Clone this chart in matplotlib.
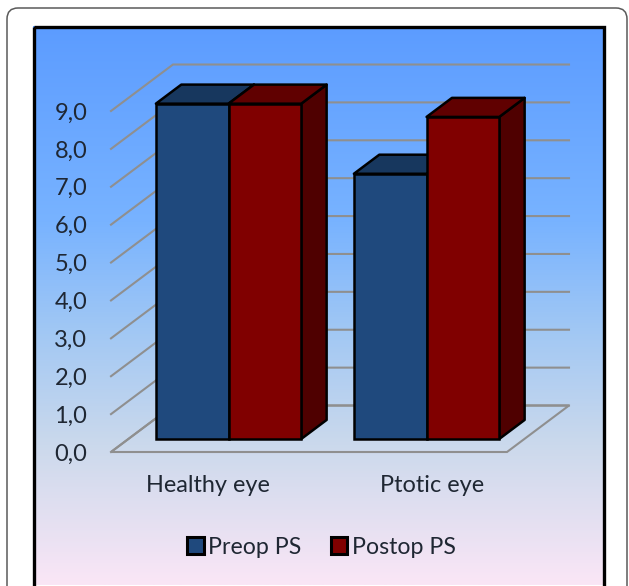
import numpy as np
import matplotlib
matplotlib.use("Agg")
import matplotlib.pyplot as plt
from matplotlib.colors import LinearSegmentedColormap
from matplotlib.patches import FancyBboxPatch, Patch, Polygon, Rectangle

categories = ["Healthy eye", "Ptotic eye"]
series_names = ["Preop PS", "Postop PS"]
preop = [8.85, 7.0]
postop = [8.85, 8.5]
y_ticks = [0, 1, 2, 3, 4, 5, 6, 7, 8, 9]
y_labels = ["0,0", "1,0", "2,0", "3,0", "4,0", "5,0", "6,0", "7,0", "8,0", "9,0"]

W, H = 629, 586
plt.rcParams["font.family"] = ["Lato", "DejaVu Sans"]
TXT = "#1f2733"
GRID = "#8f8f8f"
fig = plt.figure(figsize=(W / 100, H / 100), dpi=100, facecolor="white")

# page card and gradient panel (pixel space)
bg = fig.add_axes([0, 0, 1, 1], zorder=0)
bg.set_xlim(0, W); bg.set_ylim(H, 0); bg.axis("off")
bg.add_patch(FancyBboxPatch((7, 8), 620, 640, boxstyle="round,pad=0,rounding_size=11",
                            fc="white", ec="#5a5a5a", lw=1.1))
cmap = LinearSegmentedColormap.from_list("panel", [
    (0.0, "#5c9cff"), (0.35, "#78b3ff"), (0.55, "#a2c8f4"),
    (0.75, "#cbd9ec"), (1.0, "#fae6f6")])
bg.imshow(np.linspace(0, 1, 256)[:, None], cmap=cmap, aspect="auto",
          extent=(33, 603, 585, 26), zorder=1)
bg.set_xlim(0, W); bg.set_ylim(H, 0)
bg.add_patch(Rectangle((33.5, 26.5), 570, 570, fc="none", ec="black", lw=2.4, zorder=2))

# chart axes: front floor edge of the 3D box
ax = fig.add_axes([111 / W, (H - 452) / H, 396 / W, 341 / H], zorder=1)
ax.patch.set_alpha(0)
ax.set_xlim(-0.5, 1.5)
ax.set_ylim(0, 9)
for s in ax.spines.values():
    s.set_visible(False)

DX = 62 / 198      # category units per full depth
DY = 46.5 / 37.9   # value units per full depth
D0, D1 = 0.28, 0.69  # bar front and back depth
LEFT, RIGHT = -0.5, 1.5
BAR_W = 0.367
BAR_SHIFT = 0.006


def P(x, v, d):
    return (x + d * DX, v + d * DY)


# gridlines: side wall and back wall
for v in y_ticks:
    pts = [P(LEFT, v, 0), P(LEFT, v, 1), P(RIGHT, v, 1)]
    ax.plot(*zip(*pts), color=GRID, lw=1.5, zorder=1, clip_on=False, solid_joinstyle="miter")
# floor
floor = [P(LEFT, 0, 0), P(RIGHT, 0, 0), P(RIGHT, 0, 1), P(LEFT, 0, 1)]
ax.add_patch(Polygon(floor, closed=True, fc="none", ec=GRID, lw=1.5, zorder=1, clip_on=False))


def draw_bar(x0, val, front, top, side, z):
    x1 = x0 + BAR_W
    kw = dict(closed=True, ec="black", lw=1.8, clip_on=False, zorder=z, joinstyle="round")
    ax.add_patch(Polygon([P(x1, 0, D0), P(x1, 0, D1), P(x1, val, D1), P(x1, val, D0)], fc=side, **kw))
    ax.add_patch(Polygon([P(x0, val, D0), P(x1, val, D0), P(x1, val, D1), P(x0, val, D1)], fc=top, **kw))
    base = P(x0, 0, D0)
    ax.bar(base[0], val, BAR_W, bottom=base[1], align="edge", color=front,
           edgecolor="black", linewidth=1.8, zorder=z, clip_on=False)


for i in range(len(categories)):
    draw_bar(i - BAR_W + BAR_SHIFT, preop[i], "#1f497d", "#17375e", "#10294a", 3 + i)
    draw_bar(i + BAR_SHIFT, postop[i], "#800000", "#600000", "#4f0000", 3.5 + i)

ax.set_yticks(y_ticks, y_labels, fontsize=17, color=TXT)
ax.tick_params(axis="y", length=0, pad=17)
ax.set_xticks([])
label_x = [-0.008, 1.12]
for x, c in zip(label_x, categories):
    ax.annotate(c, (x, 0), xytext=(0, -33 * 72 / 100), textcoords="offset points",
                ha="center", va="center", fontsize=16.9, color=TXT, annotation_clip=False)

handles = [Patch(fc="#1f497d", ec="black", lw=2.2), Patch(fc="#800000", ec="black", lw=2.2)]
fig.legend(handles, series_names, ncol=2, frameon=False, fontsize=16.7, labelcolor=TXT,
           loc="center", bbox_to_anchor=(321.5 / W, (H - 547) / H),
           handlelength=0.72, handleheight=0.72, handletextpad=0.2, columnspacing=1.25)

fig.savefig("out.png", dpi=100)
